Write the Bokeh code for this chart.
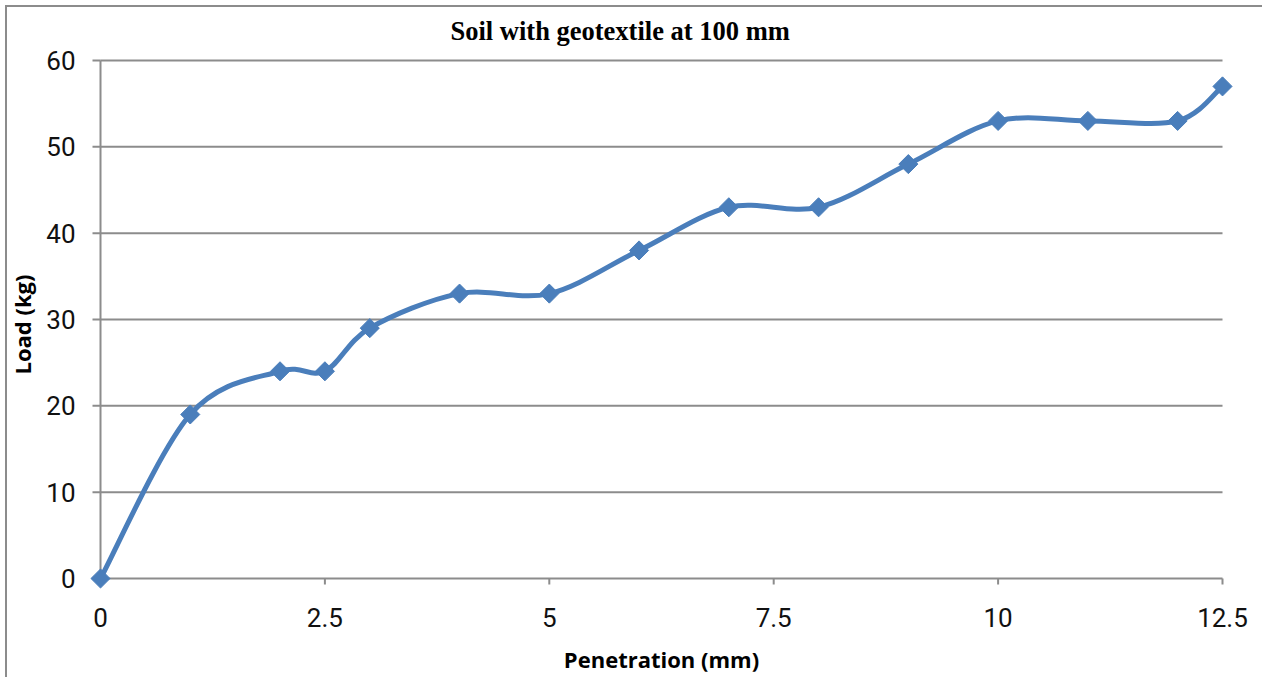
import numpy as np
from bokeh.plotting import figure
from bokeh.models import Range1d, LinearAxis, FixedTicker
from bokeh.embed import file_html
from bokeh.resources import INLINE

# ---- data ----
penetration = [0, 1, 2, 2.5, 3, 4, 5, 6, 7, 8, 9, 10, 11, 12, 12.5]
load = [0, 19, 24, 24, 29, 33, 33, 38, 43, 43, 48, 53, 53, 53, 57]
x_ticks = [0, 2.5, 5, 7.5, 10, 12.5]
x_tick_labels = ["0", "2.5", "5", "7.5", "10", "12.5"]
y_ticks = [0, 10, 20, 30, 40, 50, 60]
y_tick_labels = ["0", "10", "20", "30", "40", "50", "60"]
title_text = "Soil with geotextile at 100 mm"
x_title = "Penetration (mm)"
y_title = "Load (kg)"

# ---- layout (pixels) ----
W, H = 1262, 677
left, top = 100, 60            # pixel position of (x=0, y=60)
plot_w, plot_h = 1122, 518     # pixel size of the 0..12.5 x 0..60 area
pad = 12                       # room so the end markers are not clipped
pad_top = 2
x0, x1 = x_ticks[0], x_ticks[-1]
y0, y1 = y_ticks[0], y_ticks[-1]
ppx = plot_w / (x1 - x0)
ppy = plot_h / (y1 - y0)

BLUE = "#4A7EBB"
GRAY = "#8C8C8C"

p = figure(width=W, height=H, output_backend="svg", toolbar_location=None,
           x_range=Range1d(x0 - pad / ppx, x1 + pad / ppx),
           y_range=Range1d(y0 - pad / ppy, y1 + pad_top / ppy),
           x_axis_type=None, y_axis_type=None, title=title_text,
           min_border_left=left - pad, min_border_right=W - left - plot_w - pad,
           min_border_top=top - pad_top, min_border_bottom=H - top - plot_h - pad)
p.outline_line_color = None
p.border_fill_alpha = 0
p.background_fill_color = "white"
p.styles = {"background-color": "white",
            "box-shadow": "inset 5px 5px 0 0 white, inset 7px 7px 0 0 #8C8C8C"}

p.title.text_font = "Liberation Serif"
p.title.text_font_style = "bold"
p.title.text_font_size = "26.5px"
p.title.text_color = "black"
p.title.align = "left"
p.title.offset = 450 - (left - pad)
p.title.standoff = 26

tick_font = "Roboto"

xaxis = LinearAxis(ticker=FixedTicker(ticks=x_ticks, minor_ticks=[]), axis_label=x_title)
xaxis.major_label_overrides = {t: s for t, s in zip(x_ticks, x_tick_labels)}
xaxis.axis_line_color = None
xaxis.major_tick_line_color = None
xaxis.minor_tick_line_color = None
xaxis.major_tick_out = 0
xaxis.major_tick_in = 0
xaxis.major_label_text_font = tick_font
xaxis.major_label_text_font_size = "26px"
xaxis.major_label_text_color = "#111111"
xaxis.major_label_standoff = 17
xaxis.axis_label_text_font = "Open Sans"
xaxis.axis_label_text_font_style = "bold"
xaxis.axis_label_text_font_size = "22px"
xaxis.axis_label_text_color = "black"
xaxis.axis_label_standoff = 14
p.add_layout(xaxis, "below")

yaxis = LinearAxis(ticker=FixedTicker(ticks=y_ticks, minor_ticks=[]), axis_label=y_title)
yaxis.major_label_overrides = {t: s for t, s in zip(y_ticks, y_tick_labels)}
yaxis.axis_line_color = None
yaxis.major_tick_line_color = None
yaxis.minor_tick_line_color = None
yaxis.major_tick_out = 0
yaxis.major_tick_in = 0
yaxis.major_label_text_font = tick_font
yaxis.major_label_text_font_size = "26px"
yaxis.major_label_text_color = "#111111"
yaxis.major_label_standoff = 13
yaxis.axis_label_text_font = "Open Sans"
yaxis.axis_label_text_font_style = "bold"
yaxis.axis_label_text_font_size = "22px"
yaxis.axis_label_text_color = "black"
yaxis.axis_label_standoff = 6
p.add_layout(yaxis, "left")

# ---- gridlines, axis lines and tick marks (drawn at the data origin) ----
gy = y_ticks[1:]
p.segment(x0=[x0] * len(gy), x1=[x1] * len(gy), y0=gy, y1=gy,
          line_color=GRAY, line_width=2)
p.segment(x0=[x0, x0], x1=[x1, x0], y0=[y0, y0], y1=[y0, y1],
          line_color=GRAY, line_width=2)
ytick_len = 8 / ppx
p.segment(x0=[x0 - ytick_len] * len(y_ticks), x1=[x0] * len(y_ticks),
          y0=y_ticks, y1=y_ticks, line_color=GRAY, line_width=2)
xtick_len = 6 / ppy
p.segment(x0=x_ticks, x1=x_ticks, y0=[y0] * len(x_ticks),
          y1=[y0 - xtick_len] * len(x_ticks), line_color=GRAY, line_width=2)

# ---- smoothed line (Catmull-Rom -> cubic Bezier through the data points) ----
xs = np.array(penetration, dtype=float)
ys = np.array(load, dtype=float)
xe = np.concatenate([[xs[0]], xs, [xs[-1]]])
ye = np.concatenate([[ys[0]], ys, [ys[-1]]])
n = len(xs)
cx0 = [xe[i + 1] + (xe[i + 2] - xe[i]) / 6 for i in range(n - 1)]
cy0 = [ye[i + 1] + (ye[i + 2] - ye[i]) / 6 for i in range(n - 1)]
cx1 = [xe[i + 2] - (xe[i + 3] - xe[i + 1]) / 6 for i in range(n - 1)]
cy1 = [ye[i + 2] - (ye[i + 3] - ye[i + 1]) / 6 for i in range(n - 1)]
p.bezier(x0=xs[:-1], y0=ys[:-1], x1=xs[1:], y1=ys[1:], cx0=cx0, cy0=cy0, cx1=cx1, cy1=cy1,
         line_color=BLUE, line_width=5)
p.scatter(penetration, load, marker="square", angle=np.pi / 4, size=13.5,
          fill_color=BLUE, line_color=BLUE, line_width=1)

open("out.html", "w").write(file_html(p, INLINE))
